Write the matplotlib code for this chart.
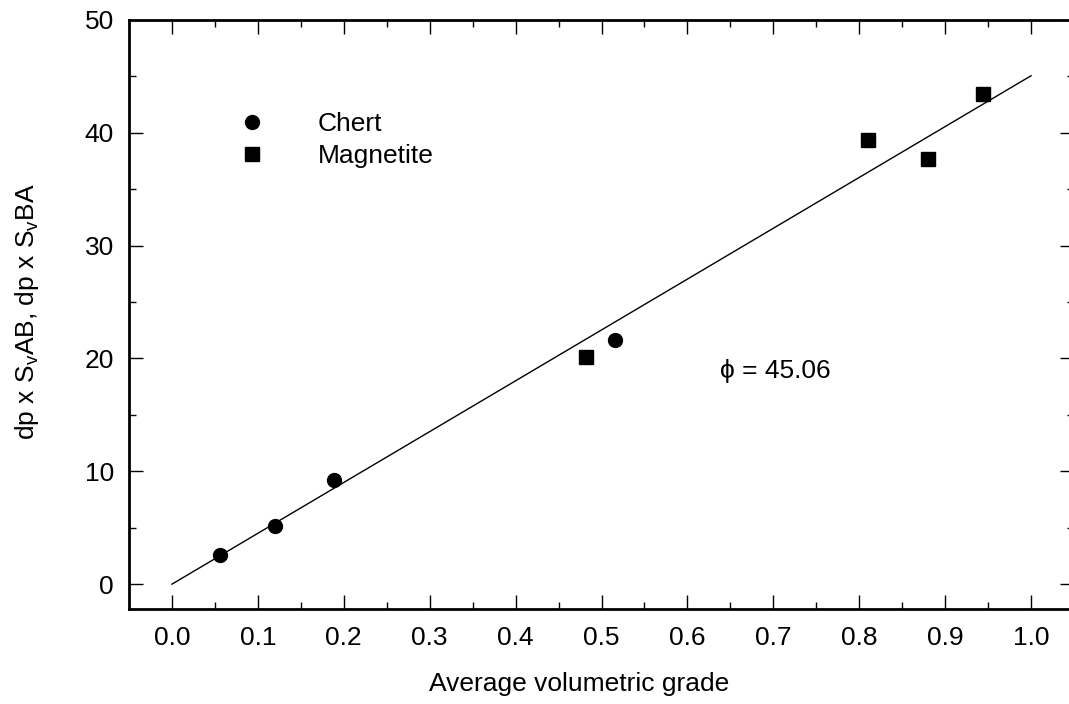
import matplotlib
matplotlib.use("Agg")
import matplotlib.pyplot as plt
from matplotlib.ticker import MultipleLocator

plt.rcParams['font.family'] = ['Liberation Sans', 'DejaVu Sans']
plt.rcParams['mathtext.fontset'] = 'custom'
plt.rcParams['mathtext.rm'] = 'Liberation Sans'
plt.rcParams['font.size'] = 19

# data
chert_x = [0.056, 0.120, 0.189, 0.516]
chert_y = [2.6, 5.15, 9.2, 21.6]
magn_x = [0.482, 0.810, 0.880, 0.944]
magn_y = [20.1, 39.4, 37.7, 43.4]
phi = 45.06
fit_x = [0.0, 1.0]
fit_y = [phi * v for v in fit_x]

fig = plt.figure(figsize=(10.69, 7.04), dpi=100)
ax = fig.add_axes([0.1207, 0.135, 0.8840, 0.8366])

ax.plot(fit_x, fit_y, color='black', linewidth=1)
ax.plot(chert_x, chert_y, 'o', color='black', markersize=10, label='Chert')
ax.plot(magn_x, magn_y, 's', color='black', markersize=9.5, label='Magnetite')

ax.text(0.638, 18.9, '\u03d5 = 45.06', va='center', ha='left')

ax.set_xlim(-0.05, 1.05)
ax.set_ylim(-2.2, 50)
ax.xaxis.set_major_locator(MultipleLocator(0.1))
ax.xaxis.set_minor_locator(MultipleLocator(0.05))
ax.yaxis.set_major_locator(MultipleLocator(10))
ax.yaxis.set_minor_locator(MultipleLocator(5))
ax.xaxis.set_major_formatter(matplotlib.ticker.FormatStrFormatter('%.1f'))

ax.tick_params(which='both', direction='in', top=True, right=True, width=1, color='black')
ax.tick_params(which='major', length=10)
ax.tick_params(which='minor', length=5)
ax.tick_params(axis='x', pad=12)
ax.tick_params(axis='y', pad=11)

for s in ax.spines.values():
    s.set_linewidth(2)

ax.set_xlabel('Average volumetric grade')
ax.set_ylabel(r'dp x S$_\mathregular{v}$AB, dp x S$_\mathregular{v}$BA')
ax.xaxis.set_label_coords(0.476, -0.107)
ax.yaxis.set_label_coords(-0.093, 0.505)

ax.legend(loc='upper left', bbox_to_anchor=(0.102, 0.8435), frameon=False,
          numpoints=1, handlelength=2, handletextpad=1.5, borderpad=0,
          borderaxespad=0, labelspacing=0.31)

fig.savefig('out.png', dpi=100)
